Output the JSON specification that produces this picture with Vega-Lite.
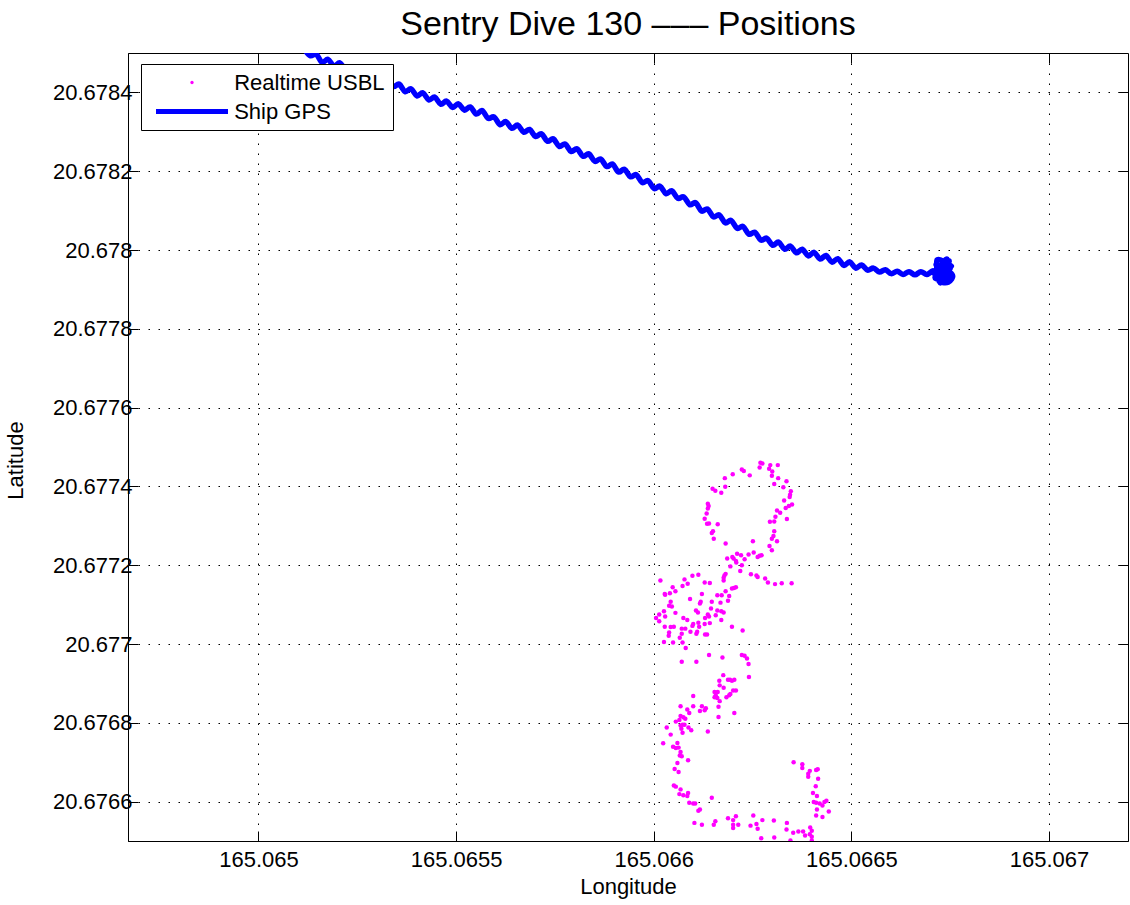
{
  "$schema": "https://vega.github.io/schema/vega-lite/v6.json",
  "width": 1000,
  "height": 788,
  "autosize": {"type": "none"},
  "padding": {"left": 128, "top": 53, "right": 2, "bottom": 64},
  "background": "white",
  "title": {"text": "Sentry Dive 130 ––– Positions", "font": "Liberation Sans", "fontSize": 34, "fontWeight": "normal", "color": "black", "anchor": "middle", "offset": 11},
  "config": {
    "view": {"stroke": "black", "strokeWidth": 1},
    "axis": {"labelFont": "Liberation Sans", "labelFontSize": 22, "labelColor": "black", "titleFont": "Liberation Sans", "titleFontSize": 22, "titleFontWeight": "normal", "titleColor": "black", "tickColor": "black", "domainColor": "black", "gridColor": "black", "gridDash": [1.5, 8.5], "gridOpacity": 1, "gridWidth": 1, "tickWidth": 1},
    "legend": {"padding": 7.5, "fillColor": "white", "strokeColor": "black", "strokeWidth": 1, "cornerRadius": 0, "labelFont": "Liberation Sans", "labelFontSize": 22, "labelColor": "black", "labelOffset": 31.2, "symbolOffset": 32.5, "rowPadding": 6, "symbolSize": 100, "symbolStrokeWidth": 5, "symbolOpacity": 1}
  },
  "datasets": {
    "usbl": [
      {"lon":165.066270,"lat":20.677460,"s":"Realtime USBL"},{"lon":165.066275,"lat":20.677458,"s":"Realtime USBL"},{"lon":165.066295,"lat":20.677454,"s":"Realtime USBL"},{"lon":165.066314,"lat":20.677454,"s":"Realtime USBL"},{"lon":165.066223,"lat":20.677443,"s":"Realtime USBL"},{"lon":165.066228,"lat":20.677439,"s":"Realtime USBL"},{"lon":165.066268,"lat":20.677448,"s":"Realtime USBL"},{"lon":165.066292,"lat":20.677445,"s":"Realtime USBL"},{"lon":165.066300,"lat":20.677438,"s":"Realtime USBL"},{"lon":165.066200,"lat":20.677431,"s":"Realtime USBL"},
      {"lon":165.066243,"lat":20.677428,"s":"Realtime USBL"},{"lon":165.066180,"lat":20.677421,"s":"Realtime USBL"},{"lon":165.066299,"lat":20.677427,"s":"Realtime USBL"},{"lon":165.066315,"lat":20.677421,"s":"Realtime USBL"},{"lon":165.066336,"lat":20.677413,"s":"Realtime USBL"},{"lon":165.066305,"lat":20.677406,"s":"Realtime USBL"},{"lon":165.066181,"lat":20.677399,"s":"Realtime USBL"},{"lon":165.066328,"lat":20.677398,"s":"Realtime USBL"},{"lon":165.066149,"lat":20.677394,"s":"Realtime USBL"},{"lon":165.066156,"lat":20.677389,"s":"Realtime USBL"},
      {"lon":165.066171,"lat":20.677384,"s":"Realtime USBL"},{"lon":165.066347,"lat":20.677388,"s":"Realtime USBL"},{"lon":165.066345,"lat":20.677379,"s":"Realtime USBL"},{"lon":165.066344,"lat":20.677373,"s":"Realtime USBL"},{"lon":165.066330,"lat":20.677364,"s":"Realtime USBL"},{"lon":165.066350,"lat":20.677354,"s":"Realtime USBL"},{"lon":165.066342,"lat":20.677350,"s":"Realtime USBL"},{"lon":165.066334,"lat":20.677345,"s":"Realtime USBL"},{"lon":165.066137,"lat":20.677356,"s":"Realtime USBL"},{"lon":165.066139,"lat":20.677350,"s":"Realtime USBL"},
      {"lon":165.066137,"lat":20.677344,"s":"Realtime USBL"},{"lon":165.066312,"lat":20.677339,"s":"Realtime USBL"},{"lon":165.066320,"lat":20.677333,"s":"Realtime USBL"},{"lon":165.066134,"lat":20.677331,"s":"Realtime USBL"},{"lon":165.066129,"lat":20.677318,"s":"Realtime USBL"},{"lon":165.066308,"lat":20.677323,"s":"Realtime USBL"},{"lon":165.066305,"lat":20.677311,"s":"Realtime USBL"},{"lon":165.066337,"lat":20.677317,"s":"Realtime USBL"},{"lon":165.066294,"lat":20.677310,"s":"Realtime USBL"},{"lon":165.066135,"lat":20.677305,"s":"Realtime USBL"},
      {"lon":165.066140,"lat":20.677306,"s":"Realtime USBL"},{"lon":165.066162,"lat":20.677304,"s":"Realtime USBL"},{"lon":165.066305,"lat":20.677286,"s":"Realtime USBL"},{"lon":165.066150,"lat":20.677286,"s":"Realtime USBL"},{"lon":165.066147,"lat":20.677282,"s":"Realtime USBL"},{"lon":165.066303,"lat":20.677274,"s":"Realtime USBL"},{"lon":165.066299,"lat":20.677267,"s":"Realtime USBL"},{"lon":165.066152,"lat":20.677267,"s":"Realtime USBL"},{"lon":165.066312,"lat":20.677261,"s":"Realtime USBL"},{"lon":165.066251,"lat":20.677261,"s":"Realtime USBL"},
      {"lon":165.066182,"lat":20.677255,"s":"Realtime USBL"},{"lon":165.066293,"lat":20.677249,"s":"Realtime USBL"},{"lon":165.066299,"lat":20.677238,"s":"Realtime USBL"},{"lon":165.066211,"lat":20.677229,"s":"Realtime USBL"},{"lon":165.066186,"lat":20.677217,"s":"Realtime USBL"},{"lon":165.066199,"lat":20.677221,"s":"Realtime USBL"},{"lon":165.066202,"lat":20.677217,"s":"Realtime USBL"},{"lon":165.066208,"lat":20.677211,"s":"Realtime USBL"},{"lon":165.066221,"lat":20.677225,"s":"Realtime USBL"},{"lon":165.066240,"lat":20.677227,"s":"Realtime USBL"},
      {"lon":165.066253,"lat":20.677232,"s":"Realtime USBL"},{"lon":165.066263,"lat":20.677221,"s":"Realtime USBL"},{"lon":165.066268,"lat":20.677224,"s":"Realtime USBL"},{"lon":165.066273,"lat":20.677225,"s":"Realtime USBL"},{"lon":165.066230,"lat":20.677215,"s":"Realtime USBL"},{"lon":165.066194,"lat":20.677197,"s":"Realtime USBL"},{"lon":165.066223,"lat":20.677200,"s":"Realtime USBL"},{"lon":165.066219,"lat":20.677185,"s":"Realtime USBL"},{"lon":165.066209,"lat":20.677207,"s":"Realtime USBL"},{"lon":165.066246,"lat":20.677177,"s":"Realtime USBL"},
      {"lon":165.066260,"lat":20.677174,"s":"Realtime USBL"},{"lon":165.066263,"lat":20.677170,"s":"Realtime USBL"},{"lon":165.066282,"lat":20.677166,"s":"Realtime USBL"},{"lon":165.066289,"lat":20.677156,"s":"Realtime USBL"},{"lon":165.066307,"lat":20.677152,"s":"Realtime USBL"},{"lon":165.066324,"lat":20.677154,"s":"Realtime USBL"},{"lon":165.066349,"lat":20.677154,"s":"Realtime USBL"},{"lon":165.066179,"lat":20.677174,"s":"Realtime USBL"},{"lon":165.066177,"lat":20.677168,"s":"Realtime USBL"},{"lon":165.066182,"lat":20.677178,"s":"Realtime USBL"},
      {"lon":165.066113,"lat":20.677176,"s":"Realtime USBL"},{"lon":165.066098,"lat":20.677173,"s":"Realtime USBL"},{"lon":165.066078,"lat":20.677164,"s":"Realtime USBL"},{"lon":165.066086,"lat":20.677153,"s":"Realtime USBL"},{"lon":165.066017,"lat":20.677161,"s":"Realtime USBL"},{"lon":165.066129,"lat":20.677156,"s":"Realtime USBL"},{"lon":165.066142,"lat":20.677155,"s":"Realtime USBL"},{"lon":165.066177,"lat":20.677161,"s":"Realtime USBL"},
      {"lon":165.066048,"lat":20.677144,"s":"Realtime USBL"},{"lon":165.066073,"lat":20.677147,"s":"Realtime USBL"},{"lon":165.066198,"lat":20.677141,"s":"Realtime USBL"},{"lon":165.066203,"lat":20.677142,"s":"Realtime USBL"},{"lon":165.066208,"lat":20.677144,"s":"Realtime USBL"},{"lon":165.066182,"lat":20.677134,"s":"Realtime USBL"},{"lon":165.066028,"lat":20.677127,"s":"Realtime USBL"},{"lon":165.066029,"lat":20.677125,"s":"Realtime USBL"},{"lon":165.066041,"lat":20.677129,"s":"Realtime USBL"},{"lon":165.066055,"lat":20.677134,"s":"Realtime USBL"},
      {"lon":165.066161,"lat":20.677124,"s":"Realtime USBL"},{"lon":165.066172,"lat":20.677124,"s":"Realtime USBL"},{"lon":165.066191,"lat":20.677122,"s":"Realtime USBL"},{"lon":165.066122,"lat":20.677127,"s":"Realtime USBL"},{"lon":165.066092,"lat":20.677114,"s":"Realtime USBL"},{"lon":165.066117,"lat":20.677103,"s":"Realtime USBL"},{"lon":165.066119,"lat":20.677107,"s":"Realtime USBL"},{"lon":165.066147,"lat":20.677107,"s":"Realtime USBL"},{"lon":165.066169,"lat":20.677105,"s":"Realtime USBL"},{"lon":165.066188,"lat":20.677110,"s":"Realtime USBL"},
      {"lon":165.066043,"lat":20.677107,"s":"Realtime USBL"},{"lon":165.066039,"lat":20.677097,"s":"Realtime USBL"},{"lon":165.066046,"lat":20.677095,"s":"Realtime USBL"},{"lon":165.066026,"lat":20.677083,"s":"Realtime USBL"},{"lon":165.066014,"lat":20.677075,"s":"Realtime USBL"},{"lon":165.066006,"lat":20.677066,"s":"Realtime USBL"},{"lon":165.066014,"lat":20.677058,"s":"Realtime USBL"},{"lon":165.066055,"lat":20.677079,"s":"Realtime USBL"},{"lon":165.066029,"lat":20.677070,"s":"Realtime USBL"},{"lon":165.066107,"lat":20.677085,"s":"Realtime USBL"},
      {"lon":165.066112,"lat":20.677080,"s":"Realtime USBL"},{"lon":165.066137,"lat":20.677075,"s":"Realtime USBL"},{"lon":165.066140,"lat":20.677070,"s":"Realtime USBL"},{"lon":165.066130,"lat":20.677066,"s":"Realtime USBL"},{"lon":165.066157,"lat":20.677073,"s":"Realtime USBL"},{"lon":165.066145,"lat":20.677090,"s":"Realtime USBL"},{"lon":165.066161,"lat":20.677085,"s":"Realtime USBL"},{"lon":165.066171,"lat":20.677083,"s":"Realtime USBL"},{"lon":165.066177,"lat":20.677080,"s":"Realtime USBL"},{"lon":165.066171,"lat":20.677061,"s":"Realtime USBL"},
      {"lon":165.066075,"lat":20.677066,"s":"Realtime USBL"},{"lon":165.066085,"lat":20.677061,"s":"Realtime USBL"},{"lon":165.066028,"lat":20.677044,"s":"Realtime USBL"},{"lon":165.066043,"lat":20.677043,"s":"Realtime USBL"},{"lon":165.066051,"lat":20.677044,"s":"Realtime USBL"},{"lon":165.066071,"lat":20.677039,"s":"Realtime USBL"},{"lon":165.066080,"lat":20.677039,"s":"Realtime USBL"},{"lon":165.066100,"lat":20.677051,"s":"Realtime USBL"},{"lon":165.066098,"lat":20.677046,"s":"Realtime USBL"},{"lon":165.066113,"lat":20.677054,"s":"Realtime USBL"},
      {"lon":165.066115,"lat":20.677044,"s":"Realtime USBL"},{"lon":165.066129,"lat":20.677051,"s":"Realtime USBL"},{"lon":165.066142,"lat":20.677053,"s":"Realtime USBL"},{"lon":165.066039,"lat":20.677029,"s":"Realtime USBL"},{"lon":165.066038,"lat":20.677021,"s":"Realtime USBL"},{"lon":165.066071,"lat":20.677026,"s":"Realtime USBL"},{"lon":165.066093,"lat":20.677031,"s":"Realtime USBL"},{"lon":165.066108,"lat":20.677026,"s":"Realtime USBL"},{"lon":165.066110,"lat":20.677031,"s":"Realtime USBL"},{"lon":165.066130,"lat":20.677024,"s":"Realtime USBL"},
      {"lon":165.066135,"lat":20.677024,"s":"Realtime USBL"},{"lon":165.066198,"lat":20.677044,"s":"Realtime USBL"},{"lon":165.066225,"lat":20.677034,"s":"Realtime USBL"},{"lon":165.066026,"lat":20.677005,"s":"Realtime USBL"},{"lon":165.066049,"lat":20.677004,"s":"Realtime USBL"},{"lon":165.066066,"lat":20.677016,"s":"Realtime USBL"},{"lon":165.066073,"lat":20.677004,"s":"Realtime USBL"},{"lon":165.066081,"lat":20.676990,"s":"Realtime USBL"},{"lon":165.066140,"lat":20.676972,"s":"Realtime USBL"},{"lon":165.066174,"lat":20.676966,"s":"Realtime USBL"},
      {"lon":165.066223,"lat":20.676972,"s":"Realtime USBL"},{"lon":165.066230,"lat":20.676970,"s":"Realtime USBL"},{"lon":165.066236,"lat":20.676963,"s":"Realtime USBL"},{"lon":165.066240,"lat":20.676949,"s":"Realtime USBL"},{"lon":165.066071,"lat":20.676955,"s":"Realtime USBL"},{"lon":165.066108,"lat":20.676955,"s":"Realtime USBL"},{"lon":165.066176,"lat":20.676921,"s":"Realtime USBL"},{"lon":165.066166,"lat":20.676907,"s":"Realtime USBL"},{"lon":165.066188,"lat":20.676909,"s":"Realtime USBL"},{"lon":165.066193,"lat":20.676909,"s":"Realtime USBL"},
      {"lon":165.066198,"lat":20.676907,"s":"Realtime USBL"},{"lon":165.066204,"lat":20.676909,"s":"Realtime USBL"},{"lon":165.066167,"lat":20.676895,"s":"Realtime USBL"},{"lon":165.066241,"lat":20.676916,"s":"Realtime USBL"},{"lon":165.066177,"lat":20.676889,"s":"Realtime USBL"},{"lon":165.066201,"lat":20.676882,"s":"Realtime USBL"},{"lon":165.066208,"lat":20.676882,"s":"Realtime USBL"},{"lon":165.066154,"lat":20.676878,"s":"Realtime USBL"},{"lon":165.066162,"lat":20.676878,"s":"Realtime USBL"},{"lon":165.066157,"lat":20.676870,"s":"Realtime USBL"},
      {"lon":165.066154,"lat":20.676865,"s":"Realtime USBL"},{"lon":165.066161,"lat":20.676863,"s":"Realtime USBL"},{"lon":165.066184,"lat":20.676865,"s":"Realtime USBL"},{"lon":165.066191,"lat":20.676870,"s":"Realtime USBL"},{"lon":165.066194,"lat":20.676873,"s":"Realtime USBL"},{"lon":165.066100,"lat":20.676868,"s":"Realtime USBL"},{"lon":165.066167,"lat":20.676855,"s":"Realtime USBL"},
      {"lon":165.066068,"lat":20.676842,"s":"Realtime USBL"},{"lon":165.066085,"lat":20.676834,"s":"Realtime USBL"},{"lon":165.066090,"lat":20.676825,"s":"Realtime USBL"},{"lon":165.066100,"lat":20.676842,"s":"Realtime USBL"},{"lon":165.066117,"lat":20.676830,"s":"Realtime USBL"},{"lon":165.066122,"lat":20.676842,"s":"Realtime USBL"},{"lon":165.066129,"lat":20.676832,"s":"Realtime USBL"},{"lon":165.066132,"lat":20.676837,"s":"Realtime USBL"},{"lon":165.066164,"lat":20.676841,"s":"Realtime USBL"},{"lon":165.066204,"lat":20.676825,"s":"Realtime USBL"},
      {"lon":165.066068,"lat":20.676817,"s":"Realtime USBL"},{"lon":165.066075,"lat":20.676814,"s":"Realtime USBL"},{"lon":165.066080,"lat":20.676810,"s":"Realtime USBL"},{"lon":165.066056,"lat":20.676803,"s":"Realtime USBL"},{"lon":165.066065,"lat":20.676807,"s":"Realtime USBL"},{"lon":165.066033,"lat":20.676788,"s":"Realtime USBL"},{"lon":165.066068,"lat":20.676793,"s":"Realtime USBL"},{"lon":165.066073,"lat":20.676795,"s":"Realtime USBL"},{"lon":165.066070,"lat":20.676785,"s":"Realtime USBL"},{"lon":165.066078,"lat":20.676795,"s":"Realtime USBL"},
      {"lon":165.066088,"lat":20.676788,"s":"Realtime USBL"},{"lon":165.066095,"lat":20.676781,"s":"Realtime USBL"},{"lon":165.066073,"lat":20.676775,"s":"Realtime USBL"},{"lon":165.066043,"lat":20.676770,"s":"Realtime USBL"},{"lon":165.066137,"lat":20.676778,"s":"Realtime USBL"},{"lon":165.066164,"lat":20.676815,"s":"Realtime USBL"},{"lon":165.066024,"lat":20.676748,"s":"Realtime USBL"},{"lon":165.066060,"lat":20.676749,"s":"Realtime USBL"},{"lon":165.066049,"lat":20.676739,"s":"Realtime USBL"},{"lon":165.066056,"lat":20.676736,"s":"Realtime USBL"},
      {"lon":165.066063,"lat":20.676737,"s":"Realtime USBL"},{"lon":165.066068,"lat":20.676726,"s":"Realtime USBL"},{"lon":165.066066,"lat":20.676717,"s":"Realtime USBL"},{"lon":165.066071,"lat":20.676715,"s":"Realtime USBL"},{"lon":165.066087,"lat":20.676705,"s":"Realtime USBL"},{"lon":165.066060,"lat":20.676698,"s":"Realtime USBL"},{"lon":165.066053,"lat":20.676683,"s":"Realtime USBL"},{"lon":165.066063,"lat":20.676675,"s":"Realtime USBL"},{"lon":165.066051,"lat":20.676641,"s":"Realtime USBL"},{"lon":165.066056,"lat":20.676638,"s":"Realtime USBL"},
      {"lon":165.066068,"lat":20.676631,"s":"Realtime USBL"},{"lon":165.066065,"lat":20.676619,"s":"Realtime USBL"},{"lon":165.066075,"lat":20.676616,"s":"Realtime USBL"},{"lon":165.066085,"lat":20.676614,"s":"Realtime USBL"},{"lon":165.066087,"lat":20.676622,"s":"Realtime USBL"},{"lon":165.066147,"lat":20.676610,"s":"Realtime USBL"},{"lon":165.066090,"lat":20.676597,"s":"Realtime USBL"},{"lon":165.066100,"lat":20.676595,"s":"Realtime USBL"},{"lon":165.066105,"lat":20.676595,"s":"Realtime USBL"},{"lon":165.066117,"lat":20.676580,"s":"Realtime USBL"},
      {"lon":165.066113,"lat":20.676577,"s":"Realtime USBL"},{"lon":165.066103,"lat":20.676546,"s":"Realtime USBL"},{"lon":165.066122,"lat":20.676541,"s":"Realtime USBL"},{"lon":165.066156,"lat":20.676550,"s":"Realtime USBL"},{"lon":165.066152,"lat":20.676541,"s":"Realtime USBL"},{"lon":165.066188,"lat":20.676558,"s":"Realtime USBL"},{"lon":165.066208,"lat":20.676563,"s":"Realtime USBL"},{"lon":165.066201,"lat":20.676553,"s":"Realtime USBL"},{"lon":165.066214,"lat":20.676541,"s":"Realtime USBL"},{"lon":165.066201,"lat":20.676541,"s":"Realtime USBL"},
      {"lon":165.066201,"lat":20.676533,"s":"Realtime USBL"},{"lon":165.066252,"lat":20.676565,"s":"Realtime USBL"},{"lon":165.066260,"lat":20.676543,"s":"Realtime USBL"},{"lon":165.066245,"lat":20.676539,"s":"Realtime USBL"},{"lon":165.066263,"lat":20.676531,"s":"Realtime USBL"},{"lon":165.066275,"lat":20.676553,"s":"Realtime USBL"},{"lon":165.066304,"lat":20.676552,"s":"Realtime USBL"},{"lon":165.066337,"lat":20.676546,"s":"Realtime USBL"},{"lon":165.066336,"lat":20.676529,"s":"Realtime USBL"},{"lon":165.066353,"lat":20.676521,"s":"Realtime USBL"},
      {"lon":165.066366,"lat":20.676524,"s":"Realtime USBL"},{"lon":165.066378,"lat":20.676524,"s":"Realtime USBL"},{"lon":165.066396,"lat":20.676534,"s":"Realtime USBL"},{"lon":165.066400,"lat":20.676526,"s":"Realtime USBL"},{"lon":165.066395,"lat":20.676517,"s":"Realtime USBL"},{"lon":165.066383,"lat":20.676514,"s":"Realtime USBL"},{"lon":165.066400,"lat":20.676511,"s":"Realtime USBL"},{"lon":165.066400,"lat":20.676501,"s":"Realtime USBL"},{"lon":165.066346,"lat":20.676501,"s":"Realtime USBL"},{"lon":165.066305,"lat":20.676509,"s":"Realtime USBL"},
      {"lon":165.066272,"lat":20.676507,"s":"Realtime USBL"},{"lon":165.066354,"lat":20.676700,"s":"Realtime USBL"},{"lon":165.066376,"lat":20.676695,"s":"Realtime USBL"},{"lon":165.066376,"lat":20.676685,"s":"Realtime USBL"},{"lon":165.066395,"lat":20.676678,"s":"Realtime USBL"},{"lon":165.066391,"lat":20.676671,"s":"Realtime USBL"},{"lon":165.066391,"lat":20.676663,"s":"Realtime USBL"},{"lon":165.066411,"lat":20.676680,"s":"Realtime USBL"},{"lon":165.066415,"lat":20.676682,"s":"Realtime USBL"},{"lon":165.066416,"lat":20.676658,"s":"Realtime USBL"},
      {"lon":165.066410,"lat":20.676639,"s":"Realtime USBL"},{"lon":165.066403,"lat":20.676622,"s":"Realtime USBL"},{"lon":165.066413,"lat":20.676614,"s":"Realtime USBL"},{"lon":165.066405,"lat":20.676599,"s":"Realtime USBL"},{"lon":165.066411,"lat":20.676597,"s":"Realtime USBL"},{"lon":165.066420,"lat":20.676595,"s":"Realtime USBL"},{"lon":165.066432,"lat":20.676599,"s":"Realtime USBL"},{"lon":165.066437,"lat":20.676602,"s":"Realtime USBL"},{"lon":165.066427,"lat":20.676590,"s":"Realtime USBL"},{"lon":165.066413,"lat":20.676580,"s":"Realtime USBL"},
      {"lon":165.066443,"lat":20.676575,"s":"Realtime USBL"},{"lon":165.066411,"lat":20.676565,"s":"Realtime USBL"},{"lon":165.066427,"lat":20.676561,"s":"Realtime USBL"}
    ],
    "gps": [
      {"t":0,"lon":165.065116,"lat":20.678510},{"t":1,"lon":165.065131,"lat":20.678493},{"t":2,"lon":165.065146,"lat":20.678497},{"t":3,"lon":165.065161,"lat":20.678476},{"t":4,"lon":165.065176,"lat":20.678484},{"t":5,"lon":165.065191,"lat":20.678467},{"t":6,"lon":165.065206,"lat":20.678475},{"t":7,"lon":165.065221,"lat":20.678458},{"t":8,"lon":165.065236,"lat":20.678465},{"t":9,"lon":165.065251,"lat":20.678447},
      {"t":10,"lon":165.065266,"lat":20.678455},{"t":11,"lon":165.065281,"lat":20.678437},{"t":12,"lon":165.065296,"lat":20.678445},{"t":13,"lon":165.065311,"lat":20.678428},{"t":14,"lon":165.065326,"lat":20.678435},{"t":15,"lon":165.065341,"lat":20.678415},{"t":16,"lon":165.065356,"lat":20.678421},{"t":17,"lon":165.065371,"lat":20.678402},{"t":18,"lon":165.065386,"lat":20.678409},{"t":19,"lon":165.065401,"lat":20.678391},
      {"t":20,"lon":165.065416,"lat":20.678399},{"t":21,"lon":165.065431,"lat":20.678381},{"t":22,"lon":165.065446,"lat":20.678388},{"t":23,"lon":165.065461,"lat":20.678370},{"t":24,"lon":165.065476,"lat":20.678378},{"t":25,"lon":165.065491,"lat":20.678362},{"t":26,"lon":165.065506,"lat":20.678371},{"t":27,"lon":165.065521,"lat":20.678355},{"t":28,"lon":165.065536,"lat":20.678363},{"t":29,"lon":165.065551,"lat":20.678345},
      {"t":30,"lon":165.065566,"lat":20.678354},{"t":31,"lon":165.065581,"lat":20.678334},{"t":32,"lon":165.065596,"lat":20.678338},{"t":33,"lon":165.065611,"lat":20.678318},{"t":34,"lon":165.065626,"lat":20.678326},{"t":35,"lon":165.065641,"lat":20.678309},{"t":36,"lon":165.065656,"lat":20.678317},{"t":37,"lon":165.065671,"lat":20.678299},{"t":38,"lon":165.065686,"lat":20.678306},{"t":39,"lon":165.065701,"lat":20.678288},
      {"t":40,"lon":165.065716,"lat":20.678295},{"t":41,"lon":165.065731,"lat":20.678276},{"t":42,"lon":165.065746,"lat":20.678282},{"t":43,"lon":165.065761,"lat":20.678263},{"t":44,"lon":165.065776,"lat":20.678269},{"t":45,"lon":165.065791,"lat":20.678250},{"t":46,"lon":165.065806,"lat":20.678257},{"t":47,"lon":165.065821,"lat":20.678238},{"t":48,"lon":165.065836,"lat":20.678244},{"t":49,"lon":165.065851,"lat":20.678225},
      {"t":50,"lon":165.065866,"lat":20.678231},{"t":51,"lon":165.065881,"lat":20.678212},{"t":52,"lon":165.065896,"lat":20.678218},{"t":53,"lon":165.065911,"lat":20.678198},{"t":54,"lon":165.065926,"lat":20.678205},{"t":55,"lon":165.065941,"lat":20.678186},{"t":56,"lon":165.065956,"lat":20.678191},{"t":57,"lon":165.065971,"lat":20.678171},{"t":58,"lon":165.065986,"lat":20.678176},{"t":59,"lon":165.066001,"lat":20.678156},
      {"t":60,"lon":165.066016,"lat":20.678162},{"t":61,"lon":165.066031,"lat":20.678143},{"t":62,"lon":165.066046,"lat":20.678150},{"t":63,"lon":165.066061,"lat":20.678131},{"t":64,"lon":165.066076,"lat":20.678135},{"t":65,"lon":165.066091,"lat":20.678115},{"t":66,"lon":165.066106,"lat":20.678120},{"t":67,"lon":165.066121,"lat":20.678099},{"t":68,"lon":165.066136,"lat":20.678104},{"t":69,"lon":165.066151,"lat":20.678084},
      {"t":70,"lon":165.066166,"lat":20.678089},{"t":71,"lon":165.066181,"lat":20.678069},{"t":72,"lon":165.066196,"lat":20.678075},{"t":73,"lon":165.066211,"lat":20.678055},{"t":74,"lon":165.066226,"lat":20.678060},{"t":75,"lon":165.066241,"lat":20.678040},{"t":76,"lon":165.066256,"lat":20.678045},{"t":77,"lon":165.066271,"lat":20.678025},{"t":78,"lon":165.066286,"lat":20.678030},{"t":79,"lon":165.066301,"lat":20.678012},
      {"t":80,"lon":165.066316,"lat":20.678020},{"t":81,"lon":165.066331,"lat":20.678002},{"t":82,"lon":165.066346,"lat":20.678010},{"t":83,"lon":165.066361,"lat":20.677993},{"t":84,"lon":165.066376,"lat":20.678002},{"t":85,"lon":165.066391,"lat":20.677985},{"t":86,"lon":165.066406,"lat":20.677994},{"t":87,"lon":165.066421,"lat":20.677977},{"t":88,"lon":165.066436,"lat":20.677986},{"t":89,"lon":165.066451,"lat":20.677969},
      {"t":90,"lon":165.066466,"lat":20.677978},{"t":91,"lon":165.066481,"lat":20.677961},{"t":92,"lon":165.066496,"lat":20.677970},{"t":93,"lon":165.066511,"lat":20.677954},{"t":94,"lon":165.066526,"lat":20.677962},{"t":95,"lon":165.066541,"lat":20.677949},{"t":96,"lon":165.066556,"lat":20.677954},{"t":97,"lon":165.066571,"lat":20.677944},{"t":98,"lon":165.066586,"lat":20.677950},{"t":99,"lon":165.066601,"lat":20.677940},
      {"t":100,"lon":165.066616,"lat":20.677946},{"t":101,"lon":165.066631,"lat":20.677938},{"t":102,"lon":165.066646,"lat":20.677945},{"t":103,"lon":165.066661,"lat":20.677937},{"t":104,"lon":165.066676,"lat":20.677945},{"t":105,"lon":165.066691,"lat":20.677938},{"t":106,"lon":165.066706,"lat":20.677947},
      {"t":107,"lon":165.066710,"lat":20.677943},{"t":108,"lon":165.066735,"lat":20.677969},{"t":109,"lon":165.066750,"lat":20.677953},{"t":110,"lon":165.066722,"lat":20.677923},{"t":111,"lon":165.066745,"lat":20.677918},{"t":112,"lon":165.066755,"lat":20.677938},{"t":113,"lon":165.066715,"lat":20.677963},{"t":114,"lon":165.066732,"lat":20.677948},{"t":115,"lon":165.066747,"lat":20.677972},{"t":116,"lon":165.066712,"lat":20.677931},
      {"t":117,"lon":165.066737,"lat":20.677929},{"t":118,"lon":165.066727,"lat":20.677959},{"t":119,"lon":165.066753,"lat":20.677929},{"t":120,"lon":165.066720,"lat":20.677943},{"t":121,"lon":165.066742,"lat":20.677977},{"t":122,"lon":165.066725,"lat":20.677916},{"t":123,"lon":165.066717,"lat":20.677975},{"t":124,"lon":165.066753,"lat":20.677959}
    ]
  },
  "layer": [
    {
      "data": {"name": "usbl"},
      "mark": {"type": "point", "filled": true, "opacity": 1, "size": 20, "strokeWidth": 0, "clip": true},
      "encoding": {
        "x": {"field": "lon", "type": "quantitative", "scale": {"domain": [165.06467, 165.0672], "nice": false, "zero": false},
          "axis": {"orient": "bottom", "values": [165.065, 165.0655, 165.066, 165.0665, 165.067], "format": ".7~g", "tickSize": -10, "labelPadding": 18, "grid": true, "title": "Longitude", "titlePadding": 6, "labelFlush": false}},
        "y": {"field": "lat", "type": "quantitative", "scale": {"domain": [20.6765, 20.6785], "nice": false, "zero": false},
          "axis": {"orient": "left", "values": [20.6766, 20.6768, 20.677, 20.6772, 20.6774, 20.6776, 20.6778, 20.678, 20.6782, 20.6784], "format": ".6~g", "tickSize": -10, "labelPadding": 6, "grid": true, "title": "Latitude", "titlePadding": 25, "titleY": 407, "labelFlush": false}},
        "fill": {"field": "s", "type": "nominal", "scale": {"domain": ["Realtime USBL", "Ship GPS"], "range": ["#ff00ff", "#0000ff"]},
          "legend": {"title": null, "orient": "none", "legendX": 13, "legendY": 11,
            "encode": {"symbols": {"update": {
              "shape": {"signal": "datum.value === 'Ship GPS' ? 'M-7.2,0H7.2' : 'circle'"},
              "size": {"signal": "datum.value === 'Ship GPS' ? 100 : 11"},
              "fill": {"signal": "datum.value === 'Ship GPS' ? 'transparent' : '#ff00ff'"},
              "stroke": {"signal": "datum.value === 'Ship GPS' ? '#0000ff' : 'transparent'"},
              "strokeWidth": {"value": 5},
              "opacity": {"value": 1}
            }}}}}
      }
    },
    {
      "data": {"name": "gps"},
      "mark": {"type": "line", "color": "#0000ff", "strokeWidth": 5.5, "strokeJoin": "round", "strokeCap": "round", "interpolate": "cardinal", "clip": true},
      "encoding": {
        "x": {"field": "lon", "type": "quantitative", "axis": {"orient": "top", "values": [165.065, 165.0655, 165.066, 165.0665, 165.067], "labels": false, "grid": false, "domain": false, "tickSize": -10, "title": null}},
        "y": {"field": "lat", "type": "quantitative", "axis": {"orient": "right", "values": [20.6766, 20.6768, 20.677, 20.6772, 20.6774, 20.6776, 20.6778, 20.678, 20.6782, 20.6784], "labels": false, "grid": false, "domain": false, "tickSize": -10, "title": null}},
        "order": {"field": "t", "type": "quantitative"}
      }
    }
  ],
  "resolve": {"axis": {"x": "independent", "y": "independent"}}
}
